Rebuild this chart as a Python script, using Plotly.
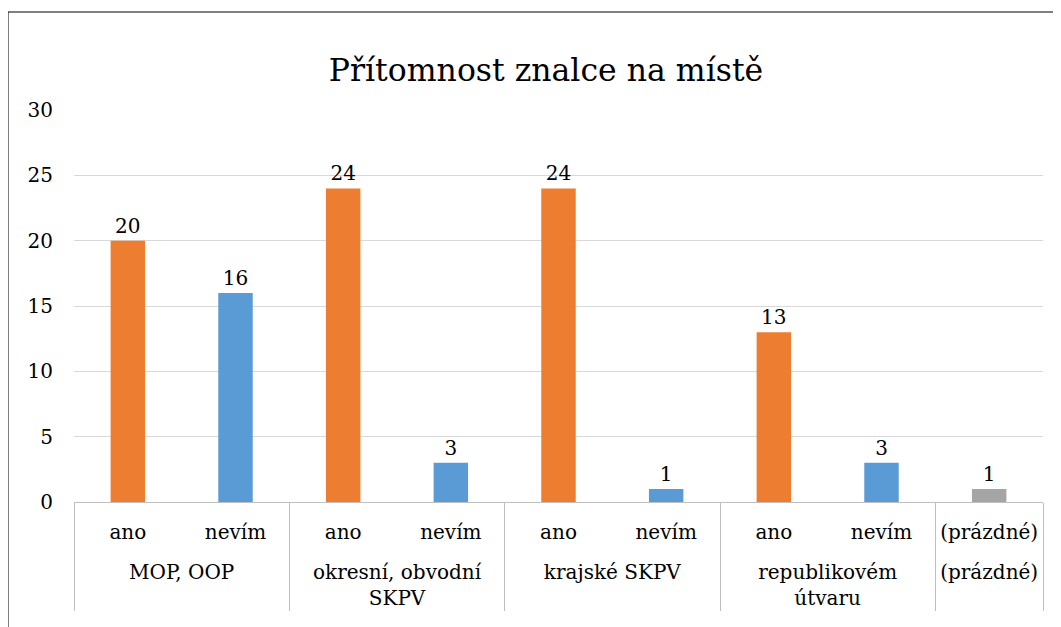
import plotly.graph_objects as go

groups = ["MOP, OOP", "MOP, OOP",
          "okresní, obvodní<br>SKPV", "okresní, obvodní<br>SKPV",
          "krajské SKPV", "krajské SKPV",
          "republikovém<br>útvaru", "republikovém<br>útvaru",
          "(prázdné)"]
answers = ["ano", "nevím", "ano", "nevím", "ano", "nevím", "ano", "nevím", "(prázdné)"]
values = [20, 16, 24, 3, 24, 1, 13, 3, 1]
color_map = {"ano": "#ED7D31", "nevím": "#5B9BD5", "(prázdné)": "#A5A5A5"}
title_text = "Přítomnost znalce na místě"

FONT = "DejaVu Serif"

# leading blank line pushes the group level further below the answer level
group_labels = ["<br>" + g for g in groups]

W, H = 1053, 619  # page body has an 8px margin
ML, MR, MT, MB = 66, 18, 102, 125
PW, PH = W - ML - MR, H - MT - MB

fig = go.Figure(go.Bar(
    x=[group_labels, answers],
    y=values,
    marker=dict(color=[color_map[a] for a in answers], line=dict(width=0)),
    width=0.32,
    text=[str(v) for v in values],
    textposition="outside",
    textfont=dict(family=FONT, size=20, color="#000000"),
    cliponaxis=False,
))

fig.update_layout(
    width=W, height=H,
    margin=dict(l=ML, r=MR, t=MT, b=MB),
    paper_bgcolor="white", plot_bgcolor="white",
    showlegend=False,
    title=dict(text=title_text, xref="paper", x=(538 - ML) / PW, xanchor="center",
               y=1 - 62 / H, yanchor="middle", automargin=False,
               font=dict(family=FONT, size=31.5, color="#000000")),
    font=dict(family=FONT, size=20, color="#000000"),
    yaxis=dict(range=[0, 30], dtick=5, showgrid=True, gridcolor="#D9D9D9", gridwidth=1,
               zeroline=False, showline=False, ticks="", ticklabelstandoff=20,
               automargin=False,
               tickfont=dict(family=FONT, size=20, color="#000000")),
    xaxis=dict(type="multicategory", showline=True, linecolor="#BFBFBF", linewidth=1,
               showdividers=True, dividercolor="#BFBFBF", dividerwidth=1,
               automargin=False, ticklabelstandoff=12,
               ticks="", tickfont=dict(family=FONT, size=20, color="#000000"),
               showgrid=False),
    shapes=[dict(type="rect", xref="paper", yref="paper",
                 x0=-ML / PW, x1=1.05, y0=-0.5, y1=1 + (MT - 4) / PH,
                 line=dict(color="#000000", width=1), fillcolor="rgba(0,0,0,0)", layer="below")],
)

fig.write_html("out.html")
